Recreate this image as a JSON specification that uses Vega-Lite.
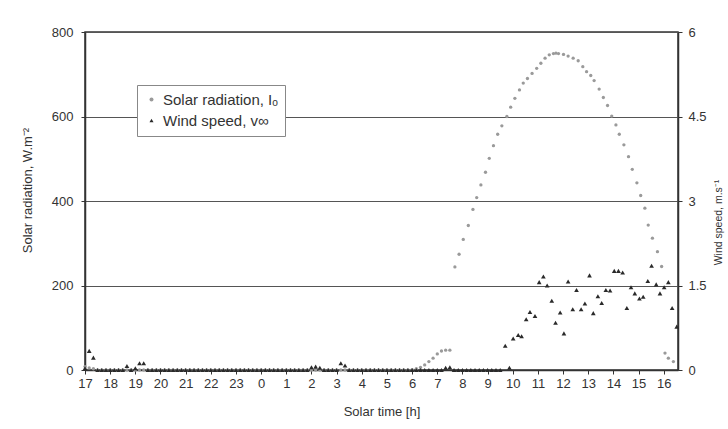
{
  "$schema": "https://vega.github.io/schema/vega-lite/v6.json",
  "width": 593,
  "height": 338,
  "autosize": {"type": "none"},
  "padding": {"left": 85, "top": 32, "right": 50, "bottom": 59},
  "background": "white",
  "config": {
    "font": "Liberation Sans",
    "view": {"stroke": "#333", "strokeWidth": 1.5},
    "axis": {
      "labelFont": "Liberation Sans", "labelFontSize": 13, "labelColor": "#333",
      "titleFont": "Liberation Sans", "titleFontSize": 13, "titleFontWeight": "normal", "titleColor": "#333",
      "domainColor": "#333", "domainWidth": 1.5, "tickColor": "#333", "tickSize": 4,
      "gridColor": "#555", "gridWidth": 1.2, "labelOverlap": false
    },
    "legend": {
      "orient": "none", "legendX": 52, "legendY": 53,
      "strokeColor": "#888", "fillColor": "white", "padding": 7,
      "labelFont": "Liberation Sans", "labelFontSize": 15, "labelColor": "#333",
      "symbolSize": 16, "rowPadding": 5, "labelOffset": 4
    }
  },
  "datasets": {
    "solar": [
      {"m":0,"v":8},{"m":10,"v":5},{"m":20,"v":3},
      {"m":30,"v":0},{"m":40,"v":0},{"m":50,"v":0},{"m":60,"v":0},{"m":70,"v":0},{"m":80,"v":0},{"m":90,"v":0},{"m":100,"v":0},
      {"m":110,"v":0},{"m":120,"v":0},{"m":130,"v":0},{"m":140,"v":0},{"m":150,"v":0},{"m":160,"v":0},{"m":170,"v":0},{"m":180,"v":0},
      {"m":190,"v":0},{"m":200,"v":0},{"m":210,"v":0},{"m":220,"v":0},{"m":230,"v":0},{"m":240,"v":0},{"m":250,"v":0},{"m":260,"v":0},
      {"m":270,"v":0},{"m":280,"v":0},{"m":290,"v":0},{"m":300,"v":0},{"m":310,"v":0},{"m":320,"v":0},{"m":330,"v":0},{"m":340,"v":0},
      {"m":350,"v":0},{"m":360,"v":0},{"m":370,"v":0},{"m":380,"v":0},{"m":390,"v":0},{"m":400,"v":0},{"m":410,"v":0},{"m":420,"v":0},
      {"m":430,"v":0},{"m":440,"v":0},{"m":450,"v":0},{"m":460,"v":0},{"m":470,"v":0},{"m":480,"v":0},{"m":490,"v":0},{"m":500,"v":0},
      {"m":510,"v":0},{"m":520,"v":0},{"m":530,"v":0},{"m":540,"v":0},{"m":550,"v":0},{"m":560,"v":0},{"m":570,"v":0},{"m":580,"v":0},
      {"m":590,"v":0},{"m":600,"v":0},{"m":610,"v":0},{"m":620,"v":0},{"m":630,"v":0},{"m":640,"v":0},{"m":650,"v":0},{"m":660,"v":0},
      {"m":670,"v":0},{"m":680,"v":0},{"m":690,"v":0},{"m":700,"v":0},{"m":710,"v":0},{"m":720,"v":0},{"m":730,"v":0},{"m":740,"v":0},
      {"m":750,"v":0},{"m":760,"v":0},{"m":770,"v":0},
      {"m":780,"v":1},{"m":790,"v":3},{"m":800,"v":6},{"m":810,"v":12},{"m":820,"v":20},{"m":830,"v":28},{"m":840,"v":38},
      {"m":850,"v":45},{"m":860,"v":47},{"m":870,"v":47},
      {"m":882,"v":244},{"m":892,"v":274},{"m":902,"v":309},{"m":914,"v":342},{"m":925,"v":380},{"m":934,"v":408},
      {"m":944,"v":438},{"m":955,"v":468},{"m":964,"v":501},{"m":974,"v":531},{"m":984,"v":558},{"m":994,"v":578},
      {"m":1006,"v":600},{"m":1015,"v":622},{"m":1025,"v":643},{"m":1036,"v":663},{"m":1045,"v":679},{"m":1055,"v":690},
      {"m":1066,"v":702},{"m":1077,"v":714},{"m":1087,"v":726},{"m":1097,"v":738},{"m":1107,"v":746},{"m":1117,"v":749},
      {"m":1123,"v":750},{"m":1129,"v":749},{"m":1141,"v":747},{"m":1152,"v":743},{"m":1164,"v":738},{"m":1176,"v":732},
      {"m":1187,"v":718},{"m":1196,"v":706},{"m":1206,"v":697},{"m":1214,"v":685},{"m":1226,"v":665},{"m":1236,"v":645},
      {"m":1246,"v":626},{"m":1256,"v":601},{"m":1266,"v":580},{"m":1274,"v":558},{"m":1285,"v":533},{"m":1296,"v":505},
      {"m":1305,"v":475},{"m":1316,"v":443},{"m":1325,"v":413},{"m":1335,"v":383},{"m":1343,"v":343},{"m":1353,"v":312},
      {"m":1365,"v":280},{"m":1375,"v":245},{"m":1383,"v":40},{"m":1391,"v":28},{"m":1403,"v":20}
    ],
    "wind": [
      {"m":0,"w":0.03},{"m":10,"w":0.34},{"m":20,"w":0.22},
      {"m":30,"w":0},{"m":40,"w":0},{"m":50,"w":0},{"m":60,"w":0},{"m":70,"w":0},{"m":80,"w":0},{"m":90,"w":0},
      {"m":100,"w":0.07},{"m":110,"w":0},{"m":120,"w":0.03},{"m":130,"w":0.12},{"m":140,"w":0.12},
      {"m":150,"w":0},{"m":160,"w":0},{"m":170,"w":0},{"m":180,"w":0},{"m":190,"w":0},{"m":200,"w":0},{"m":210,"w":0},
      {"m":220,"w":0},{"m":230,"w":0},{"m":240,"w":0},{"m":250,"w":0},{"m":260,"w":0},{"m":270,"w":0},{"m":280,"w":0},
      {"m":290,"w":0},{"m":300,"w":0},{"m":310,"w":0},{"m":320,"w":0},{"m":330,"w":0},{"m":340,"w":0},{"m":350,"w":0},
      {"m":360,"w":0},{"m":370,"w":0},{"m":380,"w":0},{"m":390,"w":0},{"m":400,"w":0},{"m":410,"w":0},{"m":420,"w":0},
      {"m":430,"w":0},{"m":440,"w":0},{"m":450,"w":0},{"m":460,"w":0},{"m":470,"w":0},{"m":480,"w":0},{"m":490,"w":0},
      {"m":500,"w":0},{"m":510,"w":0},{"m":520,"w":0},{"m":530,"w":0},
      {"m":540,"w":0.05},{"m":550,"w":0.06},{"m":560,"w":0.04},
      {"m":570,"w":0},{"m":580,"w":0},{"m":590,"w":0},{"m":600,"w":0},
      {"m":610,"w":0.12},{"m":620,"w":0.08},
      {"m":630,"w":0},{"m":640,"w":0},{"m":650,"w":0},{"m":660,"w":0},{"m":670,"w":0},{"m":680,"w":0},{"m":690,"w":0},
      {"m":700,"w":0},{"m":710,"w":0},{"m":720,"w":0},{"m":730,"w":0},{"m":740,"w":0},{"m":750,"w":0},{"m":760,"w":0},
      {"m":770,"w":0},{"m":780,"w":0},{"m":790,"w":0},{"m":800,"w":0},{"m":810,"w":0},{"m":820,"w":0},{"m":830,"w":0},
      {"m":840,"w":0},{"m":850,"w":0},{"m":860,"w":0.04},{"m":870,"w":0.05},
      {"m":880,"w":0},{"m":890,"w":0},{"m":900,"w":0},{"m":910,"w":0},{"m":920,"w":0},{"m":930,"w":0},{"m":940,"w":0},
      {"m":950,"w":0},{"m":960,"w":0},{"m":970,"w":0},{"m":980,"w":0},{"m":990,"w":0},
      {"m":1002,"w":0.43},{"m":1012,"w":0.04},{"m":1021,"w":0.56},{"m":1033,"w":0.62},{"m":1041,"w":0.60},{"m":1052,"w":0.90},
      {"m":1061,"w":1.03},{"m":1073,"w":0.96},{"m":1083,"w":1.56},{"m":1093,"w":1.66},{"m":1102,"w":1.50},{"m":1113,"w":1.23},
      {"m":1122,"w":0.84},{"m":1133,"w":1.02},{"m":1142,"w":0.65},{"m":1152,"w":1.57},{"m":1163,"w":1.08},{"m":1172,"w":1.42},
      {"m":1183,"w":1.08},{"m":1192,"w":1.18},{"m":1203,"w":1.68},{"m":1212,"w":1.01},{"m":1223,"w":1.31},{"m":1232,"w":1.19},
      {"m":1242,"w":1.42},{"m":1252,"w":1.41},{"m":1262,"w":1.76},{"m":1272,"w":1.76},{"m":1282,"w":1.73},{"m":1292,"w":1.10},
      {"m":1302,"w":1.47},{"m":1311,"w":1.36},{"m":1322,"w":1.27},{"m":1331,"w":1.30},{"m":1342,"w":1.58},{"m":1351,"w":1.85},
      {"m":1362,"w":1.52},{"m":1371,"w":1.36},{"m":1381,"w":1.47},{"m":1391,"w":1.56},{"m":1400,"w":1.10},{"m":1411,"w":0.77}
    ]
  },
  "encoding": {
    "x": {
      "field": "m", "type": "quantitative",
      "scale": {"domain": [0, 1414], "nice": false, "zero": false},
      "axis": {
        "values": [0,60,120,180,240,300,360,420,480,540,600,660,720,780,840,900,960,1020,1080,1140,1200,1260,1320,1380],
        "labelExpr": "'' + ((floor(datum.value/60)+17)%24)",
        "labelOverlap": false, "labelBound": false, "labelFlush": false,
        "title": "Solar time [h]", "grid": false, "labelPadding": 3, "titlePadding": 15
      }
    }
  },
  "layer": [
    {
      "data": {"name": "solar"},
      "mark": {"type": "point", "filled": true, "size": 11, "opacity": 1},
      "encoding": {
        "y": {
          "field": "v", "type": "quantitative",
          "scale": {"domain": [0, 800], "nice": false},
          "axis": {"values": [0,200,400,600,800], "title": "Solar radiation, W.m⁻²", "grid": true, "labelPadding": 8,
                   "titleX": -58, "titleY": 158, "titleAlign": "center", "titleBaseline": "middle"}
        },
        "color": {
          "datum": "Solar radiation, Iₒ", "type": "nominal",
          "scale": {"domain": ["Solar radiation, Iₒ", "Wind speed, v∞"], "range": ["#9a9a9a", "#2a2a2a"]},
          "legend": {"title": null}
        },
        "shape": {
          "datum": "Solar radiation, Iₒ", "type": "nominal",
          "scale": {"domain": ["Solar radiation, Iₒ", "Wind speed, v∞"], "range": ["circle", "triangle-up"]},
          "legend": {"title": null}
        }
      }
    },
    {
      "data": {"name": "wind"},
      "mark": {"type": "point", "filled": true, "size": 22, "opacity": 1},
      "encoding": {
        "y": {
          "field": "w", "type": "quantitative",
          "scale": {"domain": [0, 6], "nice": false},
          "axis": {"orient": "right", "values": [0,1.5,3,4.5,6], "labelExpr": "'' + datum.value", "title": "Wind speed, m.s⁻¹", "grid": false, "labelPadding": 6,
                   "titleAngle": 270, "titleX": 40, "titleY": 190, "titleAlign": "center", "titleBaseline": "middle", "titleFontSize": 10.5}
        },
        "color": {"datum": "Wind speed, v∞", "type": "nominal"},
        "shape": {"datum": "Wind speed, v∞", "type": "nominal"}
      }
    }
  ],
  "resolve": {"scale": {"y": "independent"}}
}
